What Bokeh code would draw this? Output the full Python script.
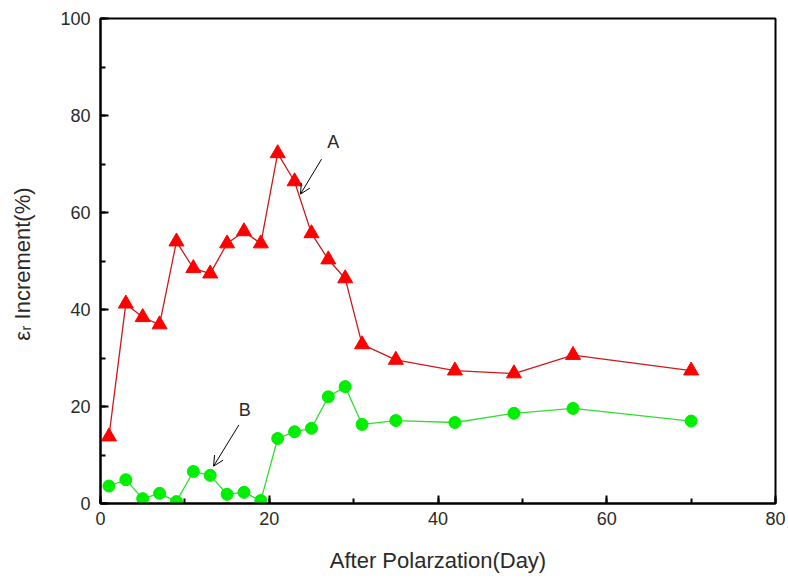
from bokeh.plotting import figure
from bokeh.models import (Range1d, SingleIntervalTicker, LinearAxis, Arrow, OpenHead,
                          ColumnDataSource, Label)
from bokeh.embed import file_html
from bokeh.resources import INLINE

days = [1, 3, 5, 7, 9, 11, 13, 15, 17, 19, 21, 23, 25, 27, 29, 31, 35, 42, 49, 56, 70]
series_a = [13.8, 41.2, 38.4, 36.9, 54.0, 48.5, 47.4, 53.6, 56.1, 53.6, 72.2, 66.4,
            55.7, 50.3, 46.4, 32.8, 29.6, 27.4, 26.8, 30.6, 27.4]
series_b = [3.6, 4.9, 1.0, 2.1, 0.4, 6.6, 5.8, 1.9, 2.3, 0.6, 13.4, 14.8,
            15.5, 22.0, 24.1, 16.3, 17.1, 16.7, 18.6, 19.6, 17.0]

# annotation positions (data units)
label_a = (27.6, 74.6)
arrow_a = (26.2, 71.0, 23.7, 63.8)
label_b = (17.1, 19.2)
arrow_b = (16.4, 16.2, 13.4, 7.7)

FONT = "Liberation Sans"

p = figure(width=788, height=580, output_backend="svg", toolbar_location=None,
           x_range=Range1d(0, 80), y_range=Range1d(0, 100),
           x_axis_location=None, y_axis_location=None,
           min_border_left=100, min_border_right=13, min_border_top=18, min_border_bottom=77)
p.xgrid.visible = False
p.ygrid.visible = False
p.outline_line_color = "black"
p.outline_line_width = 2
p.outline_line_alpha = 1.0

xaxis = LinearAxis(ticker=SingleIntervalTicker(interval=20, num_minor_ticks=2),
                   axis_label="After Polarzation(Day)")
yaxis = LinearAxis(ticker=SingleIntervalTicker(interval=20, num_minor_ticks=2),
                   axis_label="\u03b5\u1d63  Increment(%)")
for ax in (xaxis, yaxis):
    ax.axis_line_width = 2
    ax.axis_line_color = "black"
    ax.major_tick_in = 8
    ax.major_tick_out = 0
    ax.minor_tick_in = 5
    ax.minor_tick_out = 0
    ax.major_tick_line_width = 2
    ax.minor_tick_line_width = 2
    ax.major_label_text_font = FONT
    ax.major_label_text_font_size = "18px"
    ax.major_label_text_color = "#2a2a2a"
    ax.axis_label_text_font = FONT
    ax.axis_label_text_font_size = "22px"
    ax.axis_label_text_font_style = "normal"
    ax.axis_label_text_color = "#2a2a2a"
xaxis.major_label_standoff = 8
xaxis.axis_label_standoff = 20
yaxis.major_label_standoff = 10
yaxis.axis_label_standoff = 22
p.add_layout(xaxis, "below")
p.add_layout(yaxis, "left")

src = ColumnDataSource(dict(x=days, a=series_a, b=series_b))
p.line("x", "a", source=src, line_color="#cc1a1a", line_width=1.3)
p.scatter("x", "a", source=src, marker="triangle", size=15, fill_color="#ff0000",
          line_color="#ff0000")
p.line("x", "b", source=src, line_color="#33dd33", line_width=1.3)
p.scatter("x", "b", source=src, marker="circle", size=12, fill_color="#00ee00",
          line_color="#00ee00")

for (lx, ly), (x0, y0, x1, y1), txt in ((label_a, arrow_a, "A"), (label_b, arrow_b, "B")):
    p.add_layout(Label(x=lx, y=ly, text=txt, text_font=FONT, text_font_size="18px",
                       text_color="#2a2a2a", text_align="center", text_baseline="middle"))
    p.add_layout(Arrow(x_start=x0, y_start=y0, x_end=x1, y_end=y1, line_width=1,
                       line_color="black",
                       end=OpenHead(size=10, line_width=1, line_color="black")))

open("out.html", "w").write(file_html(p, INLINE))
